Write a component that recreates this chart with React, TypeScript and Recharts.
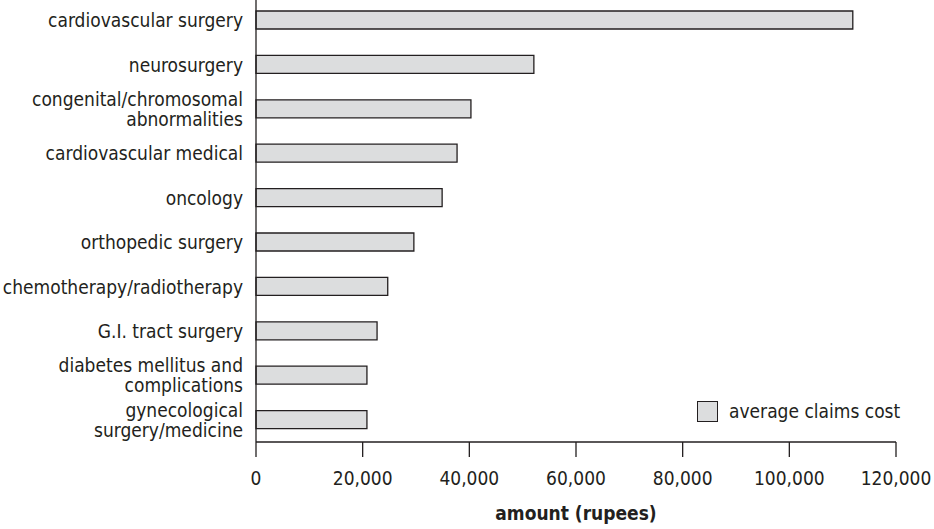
import { BarChart, Bar, XAxis, YAxis, Legend, Label } from 'recharts'

// ─── data ────────────────────────────────────────────
const CATEGORIES = [
  'cardiovascular surgery',
  'neurosurgery',
  'congenital/chromosomal\nabnormalities',
  'cardiovascular medical',
  'oncology',
  'orthopedic surgery',
  'chemotherapy/radiotherapy',
  'G.I. tract surgery',
  'diabetes mellitus and\ncomplications',
  'gynecological\nsurgery/medicine',
]
const AVG_CLAIMS = [111900, 52100, 40300, 37700, 34900, 29600, 24700, 22700, 20800, 20800]
const X_TICKS = [0, 20000, 40000, 60000, 80000, 100000, 120000]
const SERIES_NAME = 'average claims cost'

const FONT = "'Liberation Sans Narrow', 'DejaVu Sans Condensed', 'Roboto', sans-serif"
const INK = '#231f20'
const BAR_FILL = '#dcddde'

const rows = CATEGORIES.map((c, i) => ({ category: c, cost: AVG_CLAIMS[i] }))

function CategoryTick({ x, y, payload }: any) {
  const lines = String(payload.value).split('\n')
  const lh = 20
  const first = -((lines.length - 1) * lh) / 2
  return (
    <text x={x} y={y} textAnchor="end" fontFamily={FONT} fontSize={19} fill={INK}>
      {lines.map((l, i) => (
        <tspan key={i} x={x} dy={i === 0 ? first + 7 : lh}>{l}</tspan>
      ))}
    </text>
  )
}

function LegendBox({ payload }: any) {
  return (
    <div style={{ display: 'flex', alignItems: 'center', fontFamily: FONT, fontSize: 19, color: INK }}>
      {(payload ?? []).map((p: any) => (
        <span key={p.value} style={{ display: 'flex', alignItems: 'center' }}>
          <span style={{ width: 21, height: 21, boxSizing: 'border-box', background: BAR_FILL, border: `1.3px solid ${INK}`, marginRight: 11 }} />
          {p.value}
        </span>
      ))}
    </div>
  )
}

export default function App() {
  return (
    <div style={{ position: 'absolute', left: 0, top: 0, background: '#fff' }}>
      <BarChart width={934} height={529} data={rows} layout="vertical"
        margin={{ top: -2, right: 38, left: 0, bottom: 0 }} barSize={18}>
        <XAxis type="number" domain={[0, 120000]} ticks={X_TICKS} height={87}
          tickFormatter={v => v.toLocaleString('en-US')}
          tick={{ fontSize: 19, fill: INK, fontFamily: FONT }}
          axisLine={{ stroke: INK, strokeWidth: 1.3 }} tickLine={{ stroke: INK, strokeWidth: 1.3 }}
          tickSize={15} tickMargin={15}>
          <Label value="amount (rupees)" position="insideBottom" offset={9}
            style={{ fontFamily: FONT, fontSize: 19, fontWeight: 'bold', fill: INK }} />
        </XAxis>
        <YAxis type="category" dataKey="category" width={256} tick={<CategoryTick />}
          tickSize={0} tickMargin={13}
          axisLine={{ stroke: INK, strokeWidth: 1.3 }} tickLine={false} interval={0} />
        <Legend content={<LegendBox />} layout="horizontal" verticalAlign="middle" align="center"
          wrapperStyle={{ left: 697, top: 400, width: 'auto' }} />
        <Bar dataKey="cost" name={SERIES_NAME} fill={BAR_FILL} stroke={INK} strokeWidth={1.3}
          isAnimationActive={false} />
      </BarChart>
    </div>
  )
}
